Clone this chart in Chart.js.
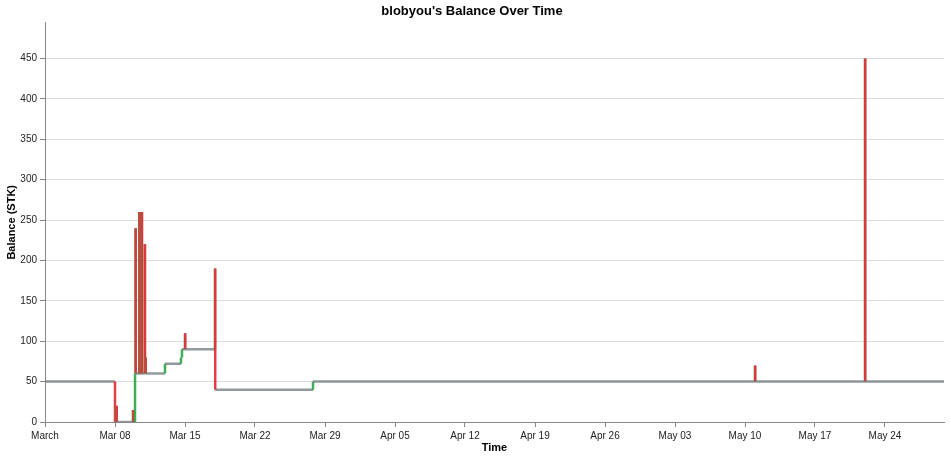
<!DOCTYPE html>
<html>
<head>
<meta charset="utf-8">
<script src="https://cdn.jsdelivr.net/npm/chart.js@4.4.1/dist/chart.umd.min.js"></script>
<style>
    html, body { margin: 0; padding: 0; background: #fff; }
    #wrap { width: 951px; height: 459px; position: relative; }
</style>
</head>
<body>
<div id="wrap"><canvas id="balance-chart"></canvas></div>
<script>
// balance changes, each time is when the new balance starts
const eventTimes = [
    '03-01 00:00', '03-08 00:00', '03-08 03:36', '03-08 04:06',
    '03-09 19:12', '03-09 19:42', '03-10 00:00', '03-10 01:12',
    '03-10 01:42', '03-10 10:05', '03-10 10:35', '03-10 13:12',
    '03-10 13:42', '03-10 13:50', '03-10 16:19', '03-10 16:49',
    '03-10 23:30', '03-11 00:00', '03-11 01:12', '03-11 01:42',
    '03-13 00:00', '03-14 14:24', '03-14 16:48', '03-15 00:00',
    '03-15 00:30', '03-18 00:00', '03-18 00:30', '03-27 19:12',
    '05-11 00:00', '05-11 00:30', '05-22 00:00', '05-22 00:30'
];
const balances = [
    50, 0, 20, 0,
    15, 0, 60, 240,
    60, 260, 60, 260,
    120, 60, 260, 60,
    220, 60, 80, 60,
    72, 80, 90, 110,
    90, 190, 40, 50,
    70, 50, 450, 50
];
const endTime = '05-30 21:36';

const tickDays = [0, 7, 14, 21, 28, 35, 42, 49, 56, 63, 70, 77, 84];
const tickLabels = ['March', 'Mar 08', 'Mar 15', 'Mar 22', 'Mar 29', 'Apr 05', 'Apr 12',
    'Apr 19', 'Apr 26', 'May 03', 'May 10', 'May 17', 'May 24'];
const yTicks = [0, 50, 100, 150, 200, 250, 300, 350, 400, 450];

const YEAR = 2026;
const DAY = 24 * 3600 * 1000;
const start = Date.UTC(YEAR, 2, 1);

function toDays(str) {
    const [md, hm] = str.split(' ');
    const [m, d] = md.split('-').map(Number);
    const [h, mi] = hm.split(':').map(Number);
    return (Date.UTC(YEAR, m - 1, d, h, mi) - start) / DAY;
}

// expand to explicit steps so each vertical move is its own segment
const points = [];
for (let i = 0; i < eventTimes.length; i++) {
    const t = toDays(eventTimes[i]);
    if (i > 0) points.push({x: t, y: balances[i - 1]});
    points.push({x: t, y: balances[i]});
}
points.push({x: toDays(endTime), y: balances[balances.length - 1]});

const RED = 'rgba(224,52,60,0.95)';
const GREEN = 'rgba(40,167,69,0.9)';
const GRAY = 'rgba(108,117,125,0.75)';

const FONT = "'Liberation Sans', Arial, sans-serif";
Chart.defaults.font.family = FONT;
Chart.defaults.color = '#222';

new Chart(document.getElementById('balance-chart'), {
    type: 'line',
    data: {
        datasets: [{
            data: points,
            borderWidth: 2.5,
            pointRadius: 0,
            tension: 0,
            fill: false,
            segment: {
                borderColor: ctx => {
                    const a = ctx.p0.parsed.y, b = ctx.p1.parsed.y;
                    if (b > a) return GREEN;
                    if (b < a) return RED;
                    return GRAY;
                }
            }
        }]
    },
    options: {
        responsive: true,
        maintainAspectRatio: false,
        animation: false,
        layout: {padding: {left: 0, right: 7, top: 0, bottom: 0}},
        plugins: {
            legend: {display: false},
            tooltip: {enabled: false},
            title: {
                display: true,
                text: "blobyou's Balance Over Time",
                color: '#000',
                font: {size: 13, weight: 'bold', lineHeight: 1.2},
                padding: {top: 4, bottom: 3}
            }
        },
        scales: {
            x: {
                type: 'linear',
                min: 0,
                max: 89.9,
                afterBuildTicks: scale => { scale.ticks = tickDays.map(v => ({value: v})); },
                afterFit: scale => { scale.height = 37; },
                ticks: {
                    autoSkip: false,
                    maxRotation: 0,
                    padding: 3,
                    font: {size: 10},
                    callback: (v, i) => tickLabels[i]
                },
                grid: {drawOnChartArea: false, drawTicks: true, tickLength: 5, tickColor: '#888'},
                border: {color: '#888', width: 1},
                title: {
                    display: true,
                    text: 'Time',
                    color: '#000',
                    font: {size: 11, weight: 'bold', lineHeight: 1.2},
                    padding: {top: 0, bottom: 4}
                }
            },
            y: {
                min: 0,
                max: 494.5,
                afterBuildTicks: scale => { scale.ticks = yTicks.map(v => ({value: v})); },
                afterFit: scale => { scale.width = 45; },
                ticks: {padding: 3, font: {size: 10}},
                grid: {color: '#ddd', tickLength: 5, tickColor: '#888'},
                border: {color: '#888', width: 1},
                title: {
                    display: true,
                    text: 'Balance (STK)',
                    color: '#000',
                    font: {size: 11, weight: 'bold', lineHeight: 1.2},
                    padding: {top: 5, bottom: 0}
                }
            }
        }
    }
});
</script>
</body>
</html>
